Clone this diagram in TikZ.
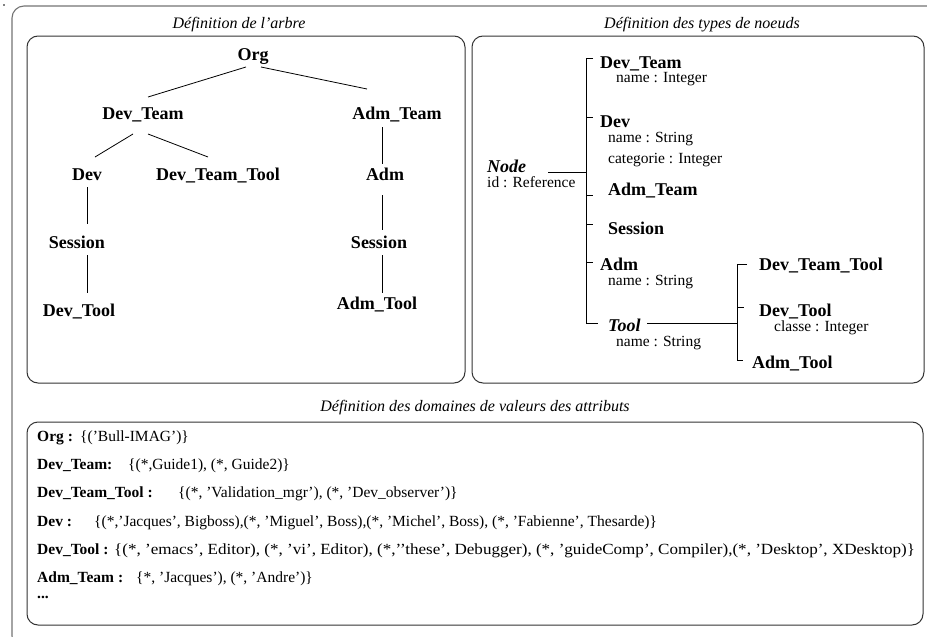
\documentclass[tikz,border=0pt]{standalone}
\usepackage{fontspec}
\setmainfont{Liberation Serif}
\begin{document}
\begin{tikzpicture}[x=1pt,y=-1pt,
  outerframe/.style={draw=black!55, line width=1.1pt, rounded corners=12pt},
  panel/.style={draw=black!80, line width=1pt, rounded corners=11pt},
  link/.style={draw=black, line width=0.8pt},
  paneltitle/.style={font=\fontsize{16}{19}\selectfont\itshape, inner sep=0pt, text height=11pt, text depth=3pt},
  treenode/.style={font=\fontsize{18}{21}\selectfont\bfseries, inner sep=0pt, text height=12pt, text depth=0pt},
  typenode/.style={font=\fontsize{18}{21}\selectfont\bfseries, anchor=west, inner sep=0pt, text height=12pt, text depth=0pt},
  abstype/.style={typenode, font=\fontsize{18}{21}\selectfont\bfseries\itshape},
  attr/.style={font=\fontsize{15.5}{18}\selectfont, anchor=west, inner sep=0pt, text height=10pt, text depth=0pt},
  domlabel/.style={font=\fontsize{15.5}{18}\selectfont\bfseries, anchor=west, inner sep=0pt, text height=10pt, text depth=0pt},
  domvalue/.style={font=\fontsize{15.5}{18}\selectfont, anchor=west, inner sep=0pt, text height=10pt, text depth=0pt}]
\useasboundingbox (0,0) rectangle (927,637);

% outer frame, running past the page on the right and at the bottom
\begin{scope}
  \clip (0,0) rectangle (927,637);
  \draw[outerframe] (12,6) rectangle (945,648);
\end{scope}
\fill (4,5) circle (0.8);

% the three panels
\draw[panel] (27,36) rectangle (465,383);
\draw[panel] (472,36) rectangle (924,383);
\draw[panel] (27,422) rectangle (923,625);

\node[paneltitle] (t1) at (239,24) {Définition de l’arbre};
\node[paneltitle] (t2) at (702,24) {Définition des types de noeuds};
\node[paneltitle] (t3) at (475,407) {Définition des domaines de valeurs des attributs};

% ---- tree of the organisation
\node[treenode] (org)     at (253,54)  {Org};
\node[treenode] (devteam) at (143,113) {Dev\_Team};
\node[treenode] (admteam) at (397,113) {Adm\_Team};
\node[treenode] (dev)     at (87,174)  {Dev};
\node[treenode] (dtt)     at (218,174) {Dev\_Team\_Tool};
\node[treenode] (adm)     at (385,174) {Adm};
\node[treenode] (sessl)   at (77,242)  {Session};
\node[treenode] (sessr)   at (379,242) {Session};
\node[treenode] (devtool) at (79,310)  {Dev\_Tool};
\node[treenode] (admtool) at (377,303) {Adm\_Tool};

\draw[link] ([shift={(-7,13)}]org.center) -- ([shift={(5,-16)}]devteam.center);
\draw[link] ([shift={(8,13)}]org.center) -- ([shift={(-30,-24)}]admteam.center);
\draw[link] ([shift={(-10,21)}]devteam.center) -- ([shift={(8,-17)}]dev.center);
\draw[link] ([shift={(5,21)}]devteam.center) -- ([shift={(-10,-17)}]dtt.center);
\draw[link] ([shift={(-15,14)}]admteam.center) -- ([shift={(-3,-10)}]adm.center);
\draw[link] ([shift={(-3,21)}]adm.center) -- ([shift={(3,-12)}]sessr.center);
\draw[link] ([shift={(3,13)}]sessr.center) -- ([shift={(5,-10)}]admtool.center);
\draw[link] ([shift={(0,13)}]dev.center) -- ([shift={(10,-18)}]sessl.center);
\draw[link] ([shift={(10,13)}]sessl.center) -- ([shift={(8,-17)}]devtool.center);

% ---- node types
\node[abstype] (nodeT) at (487,166) {Node};
\node[attr]    (nodeA) at (487,182) {id : Reference};

\node[typenode] (devteamT) at (600,62)  {Dev\_Team};
\node[attr]     (devteamA) at (616,77)  {name : Integer};
\node[typenode] (devT)     at (600,121) {Dev};
\node[attr]     (devA1)    at (608,137) {name : String};
\node[attr]     (devA2)    at (608,158) {categorie : Integer};
\node[typenode] (admteamT) at (608,189) {Adm\_Team};
\node[typenode] (sessT)    at (608,228) {Session};
\node[typenode] (admT)     at (600,264) {Adm};
\node[attr]     (admA)     at (608,280) {name : String};
\node[abstype]  (toolT)    at (608,325) {Tool};
\node[attr]     (toolA)    at (616,341) {name : String};

\node[typenode] (dttT)     at (759,264) {Dev\_Team\_Tool};
\node[typenode] (devtoolT) at (759,310) {Dev\_Tool};
\node[attr]     (devtoolA) at (774,326) {classe : Integer};
\node[typenode] (admtoolT) at (752,362) {Adm\_Tool};

% trunk joining Node to its subtypes
\coordinate (trunkTop) at (586,58);
\coordinate (trunkBot) at (586,323);
\draw[link] ([shift={(61,6)}]nodeT.west) -- (trunkTop |- 0,172);
\draw[link] ([xshift=7pt]trunkTop) -- (trunkTop) -- (trunkBot) -- ([shift={(-10,-2)}]toolT.west);
\draw[link] (trunkTop |- devT.west) ++(0,-4) -- ++(7,0);
\draw[link] (trunkTop |- admteamT.west) ++(0,6) -- ++(7,0);
\draw[link] (trunkTop |- sessT.west) ++(0,-4) -- ++(7,0);
\draw[link] (trunkTop |- admT.west) ++(0,-2) -- ++(7,0);

% trunk joining Tool to its subtypes
\coordinate (toolTop) at (737,264);
\coordinate (toolBot) at (737,360);
\draw[link] ([shift={(39,-2)}]toolT.west) -- (toolTop |- 0,323);
\draw[link] ([xshift=-12pt]dttT.west) -- (toolTop) -- (toolBot) -- ([xshift=-9pt]toolBot -| admtoolT.west);
\draw[link] (toolTop |- devtoolT.west) ++(0,-3) -- ++(7,0);

% ---- value domains
\node[domlabel] (dOrg)  at (37,436) {Org :};
\node[domvalue] (vOrg)  at (80,436) {\{(’Bull-IMAG’)\}};
\node[domlabel] (dDT)   at (37,464) {Dev\_Team:};
\node[domvalue] (vDT)   at (128,464) {\{(*,Guide1), (*, Guide2)\}};
\node[domlabel] (dDTT)  at (37,492) {Dev\_Team\_Tool :};
\node[domvalue] (vDTT)  at (178,492) {\{(*, ’Validation\_mgr’), (*, ’Dev\_observer’)\}};
\node[domlabel] (dDev)  at (37,521) {Dev :};
\node[domvalue] (vDev)  at (94,521) {\{(*,’Jacques’, Bigboss),(*, ’Miguel’, Boss),(*, ’Michel’, Boss), (*, ’Fabienne’, Thesarde)\}};
\node[domlabel] (dDTl)  at (37,549) {Dev\_Tool :};
\node[domvalue] (vDTl)  at (114,549) {\scalebox{1.1}[1]{\{(*, ’emacs’, Editor), (*, ’vi’, Editor), (*,’{}’these’, Debugger), (*, ’guideComp’, Compiler),(*, ’Desktop’, XDesktop)\}}};
\node[domlabel] (dAT)   at (37,577) {Adm\_Team :};
\node[domvalue] (vAT)   at (136,577) {\{*, ’Jacques’), (*, ’Andre’)\}};
\node[domlabel] (dMore) at (37,593) {...};
\end{tikzpicture}
\end{document}
